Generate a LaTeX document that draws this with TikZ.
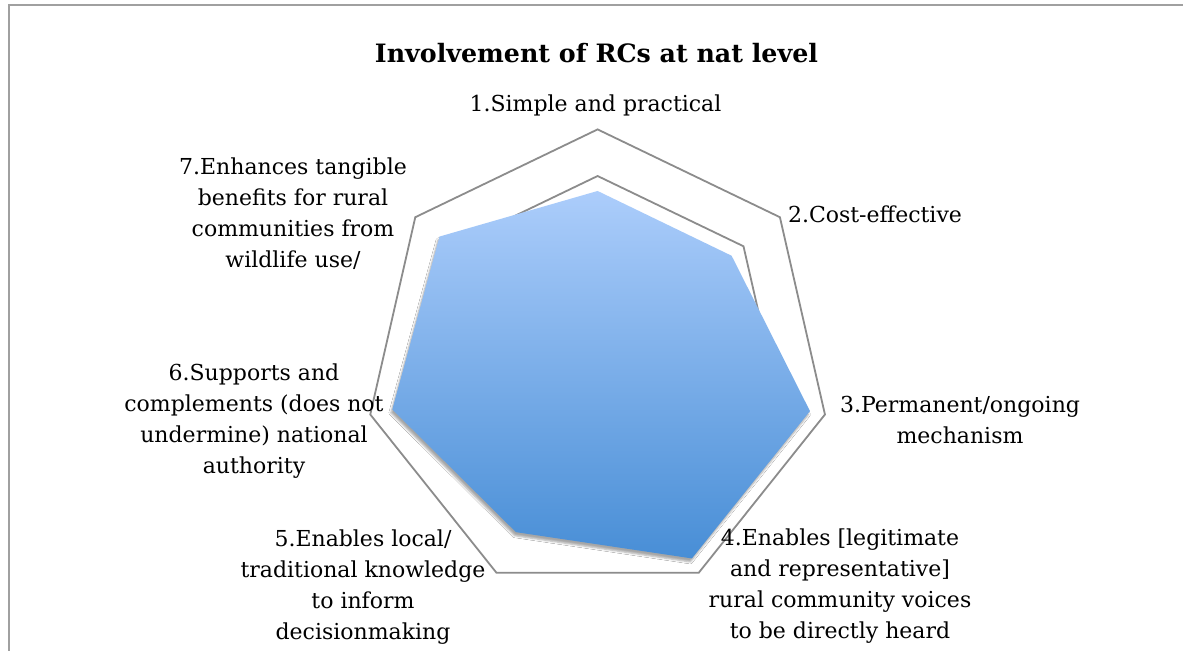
\documentclass[tikz,border=0pt]{standalone}
\usepackage{fontspec}
\setmainfont{DejaVu Serif}
\usetikzlibrary{calc,shadows.blur}
\definecolor{ringgray}{RGB}{140,140,140}
\definecolor{framegray}{RGB}{160,160,160}
\definecolor{filltop}{RGB}{172,205,251}
\definecolor{fillbot}{RGB}{72,142,214}
\newcommand\labstrut{\rule{0pt}{17.3pt}}
\tikzset{
  ring/.style={draw=ringgray, line width=1.8pt, line join=miter},
  lab/.style={font=\fontsize{22}{31}\selectfont, align=center, inner sep=0pt, text=black},
  ttl/.style={font=\fontsize{25.3}{30}\selectfont\bfseries, inner sep=0pt, text=black},
}
\begin{document}
\begin{tikzpicture}[x=1pt,y=1pt]
\useasboundingbox (0,0) rectangle (1183,-651);
\fill[white] (0,0) rectangle (1183,-651);
\draw[framegray, line width=1.8pt] (1183,-5) -- (9,-5) -- (9,-651);

\coordinate (C) at (597.6,-362.6);
\foreach \k/\v in {1/0.736,2/0.735,3/0.934,4/0.932,5/0.807,6/0.903,7/0.867} {
  \coordinate (o\k) at ($(C)+({90-(\k-1)*360/7}:233.2)$);
  \coordinate (m\k) at ($(C)+({90-(\k-1)*360/7}:186.6)$);
  \coordinate (d\k) at ($(C)+({90-(\k-1)*360/7}:{233.2*\v})$);
}
\draw[ring] (o1)--(o2)--(o3)--(o4)--(o5)--(o6)--(o7)--cycle;
\draw[ring] (m1)--(m2)--(m3)--(m4)--(m5)--(m6)--(m7)--cycle;
\path[blur shadow={shadow xshift=-1.5pt, shadow yshift=-3.5pt, shadow blur radius=2pt, shadow opacity=35},
      top color=filltop, bottom color=fillbot]
  (d1)--(d2)--(d3)--(d4)--(d5)--(d6)--(d7)--cycle;

\node[ttl, anchor=base] (title) at (596.5,-62.3) {Involvement of RCs at nat level};
\node[lab, anchor=base] (l1) at (595.5,-111.7) {1.Simple and practical};
\node[lab, anchor=base] (l2) at (875,-222.3) {2.Cost-effective};
\node[lab, anchor=north] (l3) at (960,-395) {\labstrut 3.Permanent/ongoing\\mechanism};
\node[lab, anchor=north] (l4) at (840,-528.4) {\labstrut 4.Enables [legitimate\\and representative]\\rural community voices\\to be directly heard};
\node[lab, anchor=north] (l5) at (363,-528.7) {\labstrut 5.Enables local/\\traditional knowledge\\to inform\\decisionmaking};
\node[lab, anchor=north] (l6) at (254,-362.7) {\labstrut 6.Supports and\\complements (does not\\undermine) national\\authority};
\node[lab, anchor=north] (l7) at (293,-157) {\labstrut 7.Enhances tangible\\benefits for rural\\communities from\\wildlife use/};
\end{tikzpicture}
\end{document}
